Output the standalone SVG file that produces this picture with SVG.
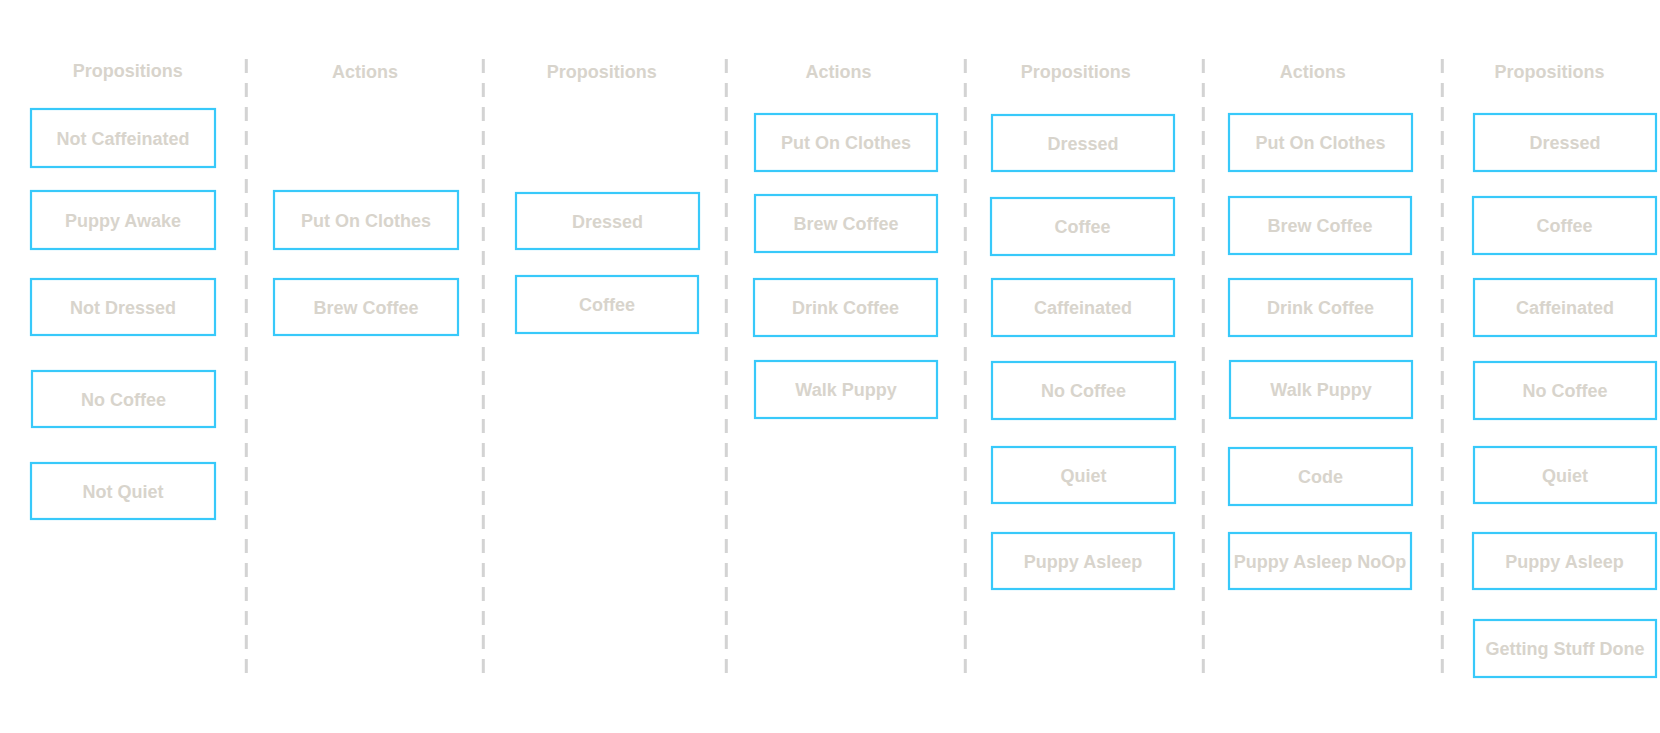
<svg xmlns="http://www.w3.org/2000/svg" width="1660" height="733" viewBox="0 0 1660 733">
<style>
.bg{fill:#ffffff}
.sep{stroke:#d3d3d3;stroke-width:3;stroke-dasharray:14 10;fill:none}
.box{fill:#ffffff;stroke:#38c9fa;stroke-width:2.2}
.t{font-family:"Liberation Sans",Arial,Helvetica,sans-serif;font-weight:bold;font-size:18px;fill:#d8d4cc;text-anchor:middle}
</style>
<rect class="bg" x="0" y="0" width="1660" height="733"/>
<g id="connectors">
<line class="sep" x1="246.3" y1="59" x2="246.3" y2="674"/>
<line class="sep" x1="483.3" y1="59" x2="483.3" y2="674"/>
<line class="sep" x1="726.3" y1="59" x2="726.3" y2="674"/>
<line class="sep" x1="965.3" y1="59" x2="965.3" y2="674"/>
<line class="sep" x1="1203.3" y1="59" x2="1203.3" y2="674"/>
<line class="sep" x1="1442.3" y1="59" x2="1442.3" y2="674"/>
</g>
<g id="headers">
<text class="t" x="127.7" y="76.5">Propositions</text>
<text class="t" x="365" y="77.5">Actions</text>
<text class="t" x="601.7" y="78">Propositions</text>
<text class="t" x="838.5" y="78">Actions</text>
<text class="t" x="1075.7" y="78">Propositions</text>
<text class="t" x="1312.7" y="78">Actions</text>
<text class="t" x="1549.5" y="78">Propositions</text>
</g>
<g id="c1-not-caffeinated"><rect class="box" x="31" y="109" width="184" height="58"/><text class="t" x="123" y="144.5">Not Caffeinated</text></g>
<g id="c1-puppy-awake"><rect class="box" x="31" y="191" width="184" height="58"/><text class="t" x="123" y="226.5">Puppy Awake</text></g>
<g id="c1-not-dressed"><rect class="box" x="31" y="279" width="184" height="56"/><text class="t" x="123" y="313.5">Not Dressed</text></g>
<g id="c1-no-coffee"><rect class="box" x="32" y="371" width="183" height="56"/><text class="t" x="123.5" y="405.5">No Coffee</text></g>
<g id="c1-not-quiet"><rect class="box" x="31" y="463" width="184" height="56"/><text class="t" x="123" y="497.5">Not Quiet</text></g>

<g id="c2-put-on-clothes"><rect class="box" x="274" y="191" width="184" height="58"/><text class="t" x="366" y="226.5">Put On Clothes</text></g>
<g id="c2-brew-coffee"><rect class="box" x="274" y="279" width="184" height="56"/><text class="t" x="366" y="313.5">Brew Coffee</text></g>

<g id="c3-dressed"><rect class="box" x="516" y="193" width="183" height="56"/><text class="t" x="607.5" y="227.5">Dressed</text></g>
<g id="c3-coffee"><rect class="box" x="516" y="276" width="182" height="57"/><text class="t" x="607" y="311">Coffee</text></g>

<g id="c4-put-on-clothes"><rect class="box" x="755" y="114" width="182" height="57"/><text class="t" x="846" y="149">Put On Clothes</text></g>
<g id="c4-brew-coffee"><rect class="box" x="755" y="195" width="182" height="57"/><text class="t" x="846" y="230">Brew Coffee</text></g>
<g id="c4-drink-coffee"><rect class="box" x="754" y="279" width="183" height="57"/><text class="t" x="845.5" y="314">Drink Coffee</text></g>
<g id="c4-walk-puppy"><rect class="box" x="755" y="361" width="182" height="57"/><text class="t" x="846" y="396">Walk Puppy</text></g>

<g id="c5-dressed"><rect class="box" x="992" y="115" width="182" height="56"/><text class="t" x="1083" y="149.5">Dressed</text></g>
<g id="c5-coffee"><rect class="box" x="991" y="198" width="183" height="57"/><text class="t" x="1082.5" y="233">Coffee</text></g>
<g id="c5-caffeinated"><rect class="box" x="992" y="279" width="182" height="57"/><text class="t" x="1083" y="314">Caffeinated</text></g>
<g id="c5-no-coffee"><rect class="box" x="992" y="362" width="183" height="57"/><text class="t" x="1083.5" y="397">No Coffee</text></g>
<g id="c5-quiet"><rect class="box" x="992" y="447" width="183" height="56"/><text class="t" x="1083.5" y="481.5">Quiet</text></g>
<g id="c5-puppy-asleep"><rect class="box" x="992" y="533" width="182" height="56"/><text class="t" x="1083" y="567.5">Puppy Asleep</text></g>

<g id="c6-put-on-clothes"><rect class="box" x="1229" y="114" width="183" height="57"/><text class="t" x="1320.5" y="149">Put On Clothes</text></g>
<g id="c6-brew-coffee"><rect class="box" x="1229" y="197" width="182" height="57"/><text class="t" x="1320" y="232">Brew Coffee</text></g>
<g id="c6-drink-coffee"><rect class="box" x="1229" y="279" width="183" height="57"/><text class="t" x="1320.5" y="314">Drink Coffee</text></g>
<g id="c6-walk-puppy"><rect class="box" x="1230" y="361" width="182" height="57"/><text class="t" x="1321" y="396">Walk Puppy</text></g>
<g id="c6-code"><rect class="box" x="1229" y="448" width="183" height="57"/><text class="t" x="1320.5" y="483">Code</text></g>
<g id="c6-puppy-asleep-noop"><rect class="box" x="1229" y="533" width="182" height="56"/><text class="t" x="1320" y="567.5">Puppy Asleep NoOp</text></g>

<g id="c7-dressed"><rect class="box" x="1474" y="114" width="182" height="57"/><text class="t" x="1565" y="149">Dressed</text></g>
<g id="c7-coffee"><rect class="box" x="1473" y="197" width="183" height="57"/><text class="t" x="1564.5" y="232">Coffee</text></g>
<g id="c7-caffeinated"><rect class="box" x="1474" y="279" width="182" height="57"/><text class="t" x="1565" y="314">Caffeinated</text></g>
<g id="c7-no-coffee"><rect class="box" x="1474" y="362" width="182" height="57"/><text class="t" x="1565" y="397">No Coffee</text></g>
<g id="c7-quiet"><rect class="box" x="1474" y="447" width="182" height="56"/><text class="t" x="1565" y="481.5">Quiet</text></g>
<g id="c7-puppy-asleep"><rect class="box" x="1473" y="533" width="183" height="56"/><text class="t" x="1564.5" y="567.5">Puppy Asleep</text></g>
<g id="c7-getting-stuff-done"><rect class="box" x="1474" y="620" width="182" height="57"/><text class="t" x="1565" y="655">Getting Stuff Done</text></g>
</svg>
